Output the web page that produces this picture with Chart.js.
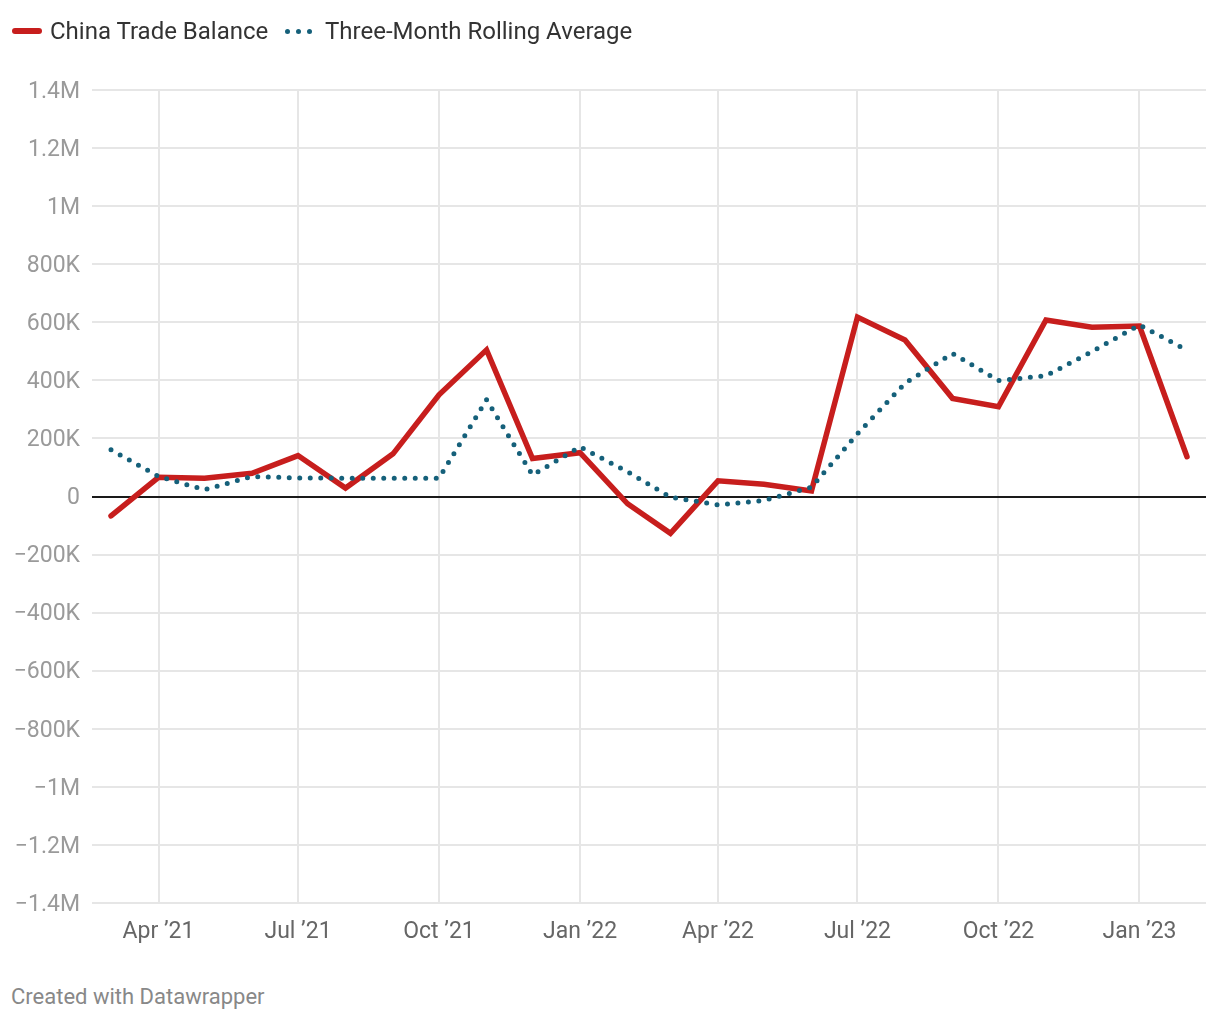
<!DOCTYPE html>
<html><head><meta charset="utf-8">
<script src="https://cdn.jsdelivr.net/npm/chart.js@4/dist/chart.umd.min.js"></script>
<style>
html,body{margin:0;padding:0;background:#fff}
body{width:1220px;height:1020px;position:relative;overflow:hidden;font-family:Roboto,"Noto Sans",sans-serif}
#c{position:absolute;left:0;top:0}
.sw-red{position:absolute;left:12px;top:28px;width:30px;height:6px;border-radius:3px;background:#c71e1d}
.dot{position:absolute;top:28.5px;width:5px;height:5px;border-radius:50%;background:#15607a}
.lg{position:absolute;top:17px;font-size:24px;line-height:28px;color:#333;white-space:nowrap}
#credit{position:absolute;left:11px;top:984px;font-size:22px;line-height:26px;color:#888}
</style></head>
<body>
<canvas id="c" width="1220" height="960"></canvas>
<div class="sw-red"></div><div class="lg" style="left:50px">China Trade Balance</div>
<div class="dot" style="left:284.5px"></div><div class="dot" style="left:295.5px"></div><div class="dot" style="left:306.5px"></div>
<div class="lg" style="left:325px">Three-Month Rolling Average</div>
<div id="credit">Created with Datawrapper</div>
<script>
const months = ["2021-03","2021-04","2021-05","2021-06","2021-07","2021-08","2021-09","2021-10","2021-11","2021-12",
  "2022-01","2022-02","2022-03","2022-04","2022-05","2022-06","2022-07","2022-08","2022-09","2022-10","2022-11","2022-12",
  "2023-01","2023-02"];
const tradeBalance = [-67000,66000,63000,80000,141000,29000,147000,350000,505000,131000,
  151000,-25000,-127000,54000,42000,19000,618000,539000,338000,309000,608000,583000,
  587000,137000];
const rollingAvg = [161000,69000,23000,69000,64000,63000,63000,63000,333000,74000,
  171000,85000,-2000,-29000,-14000,32000,216000,390000,493000,399000,416000,499000,
  591000,504000];
const xTickMonths = ["2021-04","2021-07","2021-10","2022-01","2022-04","2022-07","2022-10","2023-01"];
const xTickLabels = ["Apr \u201921","Jul \u201921","Oct \u201921","Jan \u201922","Apr \u201922","Jul \u201922","Oct \u201922","Jan \u201923"];
const yTickValues = [1400000,1200000,1000000,800000,600000,400000,200000,0,-200000,-400000,-600000,-800000,-1000000,-1200000,-1400000];
const yTickLabels = ["1.4M","1.2M","1M","800K","600K","400K","200K","0","\u2212200K","\u2212400K","\u2212600K","\u2212800K","\u22121M","\u22121.2M","\u22121.4M"];

function dayOf(m){const [y,mo]=m.split("-").map(Number);return Date.UTC(y,mo-1,1)/86400000;}
const xs = months.map(dayOf);
const pad = 12.4;

new Chart(document.getElementById("c"), {
  type: "line",
  data: {
    datasets: [
      {label:"Three-Month Rolling Average", data: xs.map((x,i)=>({x, y: rollingAvg[i]})),
       borderColor:"#15607a", borderWidth:5, borderDash:[0,10.5], borderCapStyle:"round",
       pointRadius:0, tension:0, fill:false, order:0},
      {label:"China Trade Balance", data: xs.map((x,i)=>({x, y: tradeBalance[i]})),
       borderColor:"#c71e1d", borderWidth:5.5, borderCapStyle:"round", borderJoinStyle:"miter",
       pointRadius:0, tension:0, fill:false, order:1}
    ]
  },
  options: {
    responsive:false, devicePixelRatio:1, animation:false,
    layout:{padding:{top:90,right:14,bottom:0,left:0}},
    plugins:{legend:{display:false}, tooltip:{enabled:false}},
    scales:{
      x:{type:"linear", min: xs[0]-pad, max: xs[xs.length-1]+pad,
         afterBuildTicks: s => { s.ticks = xTickMonths.map(m=>({value: dayOf(m)})); },
         afterFit: s => { s.height = 57; },
         ticks:{autoSkip:false, maxRotation:0, padding:15, color:"#666",
           font:{family:"Roboto", size:23},
           callback:(v,i)=> xTickLabels[i]},
         grid:{drawTicks:false, color:"#e6e6e6", lineWidth:2},
         border:{display:false}},
      y:{min:-1400000, max:1400000,
         afterBuildTicks: s => { s.ticks = yTickValues.map(v=>({value:v})); },
         afterFit: s => { s.width = 92; },
         ticks:{padding:12, labelOffset:2, color:"#9a9a9a", font:{family:"Roboto", size:23},
           callback:(v,i)=> yTickLabels[yTickValues.indexOf(v)]},
         grid:{drawTicks:false,
           color: c => c.tick && c.tick.value === 0 ? "#1a1a1a" : "#e6e6e6",
           lineWidth: 2},
         border:{display:false}}
    }
  }
});
</script>
</body></html>
